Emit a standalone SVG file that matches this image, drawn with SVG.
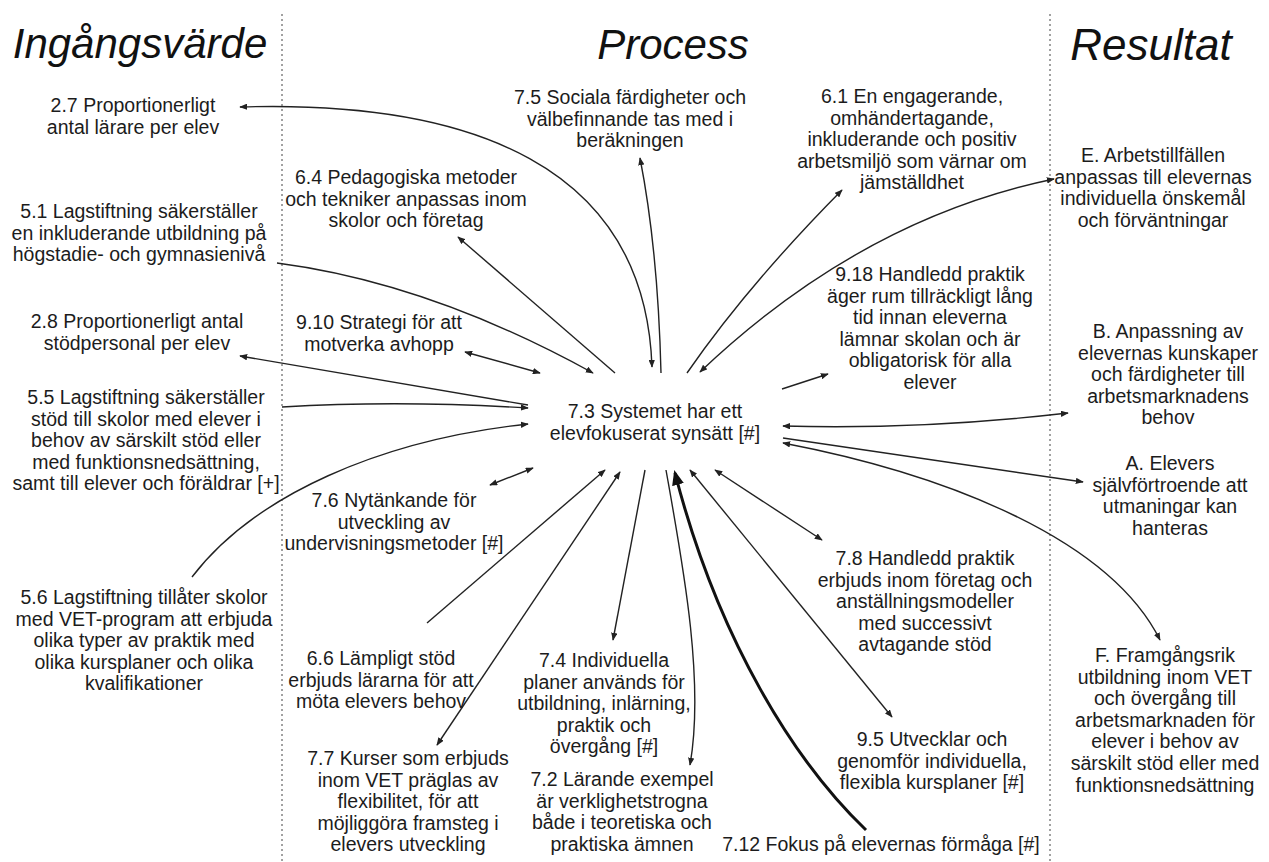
<svg xmlns="http://www.w3.org/2000/svg" width="1269" height="862" viewBox="0 0 1269 862">
  <defs>
    <style>
      .t { font-family: "Liberation Sans", Arial, sans-serif; font-size: 19.5px; fill: #1c1c1c; text-anchor: middle; }
      .h { font-family: "Liberation Sans", Arial, sans-serif; font-size: 42px; font-style: italic; fill: #111; text-anchor: middle; }
      .sep { stroke: #8a8a8a; stroke-width: 1.6; stroke-dasharray: 2 3; fill: none; }
      .c { fill: none; stroke: #222; stroke-width: 1.4; }
      .ce { marker-end: url(#ah); }
      .cs { marker-start: url(#ah); }
      .thick { fill: none; stroke: #111; stroke-width: 3; marker-end: url(#ahBig); }
    </style>
    <marker id="ah" viewBox="0 0 10 8" refX="9" refY="4" markerWidth="8" markerHeight="6.4" markerUnits="userSpaceOnUse" orient="auto-start-reverse">
      <path d="M0,0 L10,4 L0,8 z" fill="#222"/>
    </marker>
    <marker id="ahBig" viewBox="0 0 10 8" refX="8" refY="4" markerWidth="15" markerHeight="12" markerUnits="userSpaceOnUse" orient="auto">
      <path d="M0,0 L10,4 L0,8 z" fill="#111"/>
    </marker>
  </defs>

  <rect width="1269" height="862" fill="#fff"/>

  <!-- column separators -->
  <line class="sep" x1="282" y1="14" x2="282" y2="862"/>
  <line class="sep" x1="1050" y1="14" x2="1050" y2="862"/>

  <!-- column headings -->
  <text class="h" x="140" y="58">Ingångsvärde</text>
  <text class="h" x="673" y="59">Process</text>
  <text class="h" x="1151" y="60" style="font-size:44px">Resultat</text>

  <!-- connectors -->
  <g id="connectors">
    <path class="c ce cs" d="M652 367 C645 165 470 100 240 107"/>
    <path class="c ce" d="M661 373 Q658 250 640 158"/>
    <path class="c ce" d="M615 373 L458 237"/>
    <path class="c ce" d="M277 263 Q430 283 593 373"/>
    <path class="c ce" d="M687 373 Q748 285 842 190"/>
    <path class="c ce cs" d="M700 372 C760 315 880 215 1054 179"/>
    <path class="c ce" d="M782 389 L828 374"/>
    <path class="c ce cs" d="M465 352 L540 373"/>
    <path class="c ce" d="M528 405 L240 356"/>
    <path class="c ce" d="M282 407 Q400 400 528 408"/>
    <path class="c ce" d="M192 577 C255 495 380 440 528 424"/>
    <path class="c ce cs" d="M490 485 L533 468"/>
    <path class="c ce" d="M427 623 L605 470"/>
    <path class="c ce cs" d="M437 745 L620 472"/>
    <path class="c ce" d="M645 470 L613 640"/>
    <path class="c ce" d="M666 470 C682 560 705 680 690 765"/>
    <path class="thick" d="M866 830 C795 762 718 640 675 473"/>
    <path class="c ce cs" d="M690 470 L892 717"/>
    <path class="c ce cs" d="M715 470 L822 540"/>
    <path class="c ce cs" d="M783 426 Q920 430 1068 413"/>
    <path class="c ce" d="M783 438 L1083 482"/>
    <path class="c ce cs" d="M783 443 C950 475 1110 540 1160 640"/>
  </g>

  <!-- input column -->
  <g id="n-2-7"><text class="t" x="133" y="112"><tspan x="133">2.7 Proportionerligt</tspan><tspan x="133" dy="21.6">antal lärare per elev</tspan></text></g>
  <g id="n-5-1"><text class="t" x="139" y="218"><tspan x="139">5.1 Lagstiftning säkerställer</tspan><tspan x="139" dy="21.6">en inkluderande utbildning på</tspan><tspan x="139" dy="21.6">högstadie- och gymnasienivå</tspan></text></g>
  <g id="n-2-8"><text class="t" x="137" y="328"><tspan x="137">2.8 Proportionerligt antal</tspan><tspan x="137" dy="21.6">stödpersonal per elev</tspan></text></g>
  <g id="n-5-5"><text class="t" x="146" y="404"><tspan x="146">5.5 Lagstiftning säkerställer</tspan><tspan x="146" dy="21.6">stöd till skolor med elever i</tspan><tspan x="146" dy="21.6">behov av särskilt stöd eller</tspan><tspan x="146" dy="21.6">med funktionsnedsättning,</tspan><tspan x="146" dy="21.6">samt till elever och föräldrar [+]</tspan></text></g>
  <g id="n-5-6"><text class="t" x="144" y="604"><tspan x="144">5.6 Lagstiftning tillåter skolor</tspan><tspan x="144" dy="21.6">med VET-program att erbjuda</tspan><tspan x="144" dy="21.6">olika typer av praktik med</tspan><tspan x="144" dy="21.6">olika kursplaner och olika</tspan><tspan x="144" dy="21.6">kvalifikationer</tspan></text></g>

  <!-- process column -->
  <g id="n-7-5"><text class="t" x="630" y="104"><tspan x="630">7.5 Sociala färdigheter och</tspan><tspan x="630" dy="21.6">välbefinnande tas med i</tspan><tspan x="630" dy="21.6">beräkningen</tspan></text></g>
  <g id="n-6-4"><text class="t" x="406" y="184"><tspan x="406">6.4 Pedagogiska metoder</tspan><tspan x="406" dy="21.6">och tekniker anpassas inom</tspan><tspan x="406" dy="21.6">skolor och företag</tspan></text></g>
  <g id="n-9-10"><text class="t" x="379" y="329"><tspan x="379">9.10 Strategi för att</tspan><tspan x="379" dy="21.6">motverka avhopp</tspan></text></g>
  <g id="n-7-3"><text class="t" x="655" y="418"><tspan x="655">7.3 Systemet har ett</tspan><tspan x="655" dy="21.6">elevfokuserat synsätt [#]</tspan></text></g>
  <g id="n-7-6"><text class="t" x="394" y="507"><tspan x="394">7.6 Nytänkande för</tspan><tspan x="394" dy="21.6">utveckling av</tspan><tspan x="394" dy="21.6">undervisningsmetoder [#]</tspan></text></g>
  <g id="n-6-6"><text class="t" x="381" y="665"><tspan x="381">6.6 Lämpligt stöd</tspan><tspan x="381" dy="21.6">erbjuds lärarna för att</tspan><tspan x="381" dy="21.6">möta elevers behov</tspan></text></g>
  <g id="n-7-7"><text class="t" x="408" y="765"><tspan x="408">7.7 Kurser som erbjuds</tspan><tspan x="408" dy="21.6">inom VET präglas av</tspan><tspan x="408" dy="21.6">flexibilitet, för att</tspan><tspan x="408" dy="21.6">möjliggöra framsteg i</tspan><tspan x="408" dy="21.6">elevers utveckling</tspan></text></g>
  <g id="n-7-4"><text class="t" x="604" y="667"><tspan x="604">7.4 Individuella</tspan><tspan x="604" dy="21.6">planer används för</tspan><tspan x="604" dy="21.6">utbildning, inlärning,</tspan><tspan x="604" dy="21.6">praktik och</tspan><tspan x="604" dy="21.6">övergång [#]</tspan></text></g>
  <g id="n-7-2"><text class="t" x="622" y="786"><tspan x="622">7.2 Lärande exempel</tspan><tspan x="622" dy="21.6">är verklighetstrogna</tspan><tspan x="622" dy="21.6">både i teoretiska och</tspan><tspan x="622" dy="21.6">praktiska ämnen</tspan></text></g>
  <g id="n-7-12"><text class="t" x="881" y="851">7.12 Fokus på elevernas förmåga [#]</text></g>
  <g id="n-6-1"><text class="t" x="912" y="103"><tspan x="912">6.1 En engagerande,</tspan><tspan x="912" dy="21.6">omhändertagande,</tspan><tspan x="912" dy="21.6">inkluderande och positiv</tspan><tspan x="912" dy="21.6">arbetsmiljö som värnar om</tspan><tspan x="912" dy="21.6">jämställdhet</tspan></text></g>
  <g id="n-9-18"><text class="t" x="930" y="281"><tspan x="930">9.18 Handledd praktik</tspan><tspan x="930" dy="21.6">äger rum tillräckligt lång</tspan><tspan x="930" dy="21.6">tid innan eleverna</tspan><tspan x="930" dy="21.6">lämnar skolan och är</tspan><tspan x="930" dy="21.6">obligatorisk för alla</tspan><tspan x="930" dy="21.6">elever</tspan></text></g>
  <g id="n-7-8"><text class="t" x="925" y="565"><tspan x="925">7.8 Handledd praktik</tspan><tspan x="925" dy="21.6">erbjuds inom företag och</tspan><tspan x="925" dy="21.6">anställningsmodeller</tspan><tspan x="925" dy="21.6">med successivt</tspan><tspan x="925" dy="21.6">avtagande stöd</tspan></text></g>
  <g id="n-9-5"><text class="t" x="932" y="746"><tspan x="932">9.5 Utvecklar och</tspan><tspan x="932" dy="21.6">genomför individuella,</tspan><tspan x="932" dy="21.6">flexibla kursplaner [#]</tspan></text></g>

  <!-- result column -->
  <g id="n-E"><text class="t" x="1153" y="162"><tspan x="1153">E. Arbetstillfällen</tspan><tspan x="1153" dy="21.6">anpassas till elevernas</tspan><tspan x="1153" dy="21.6">individuella önskemål</tspan><tspan x="1153" dy="21.6">och förväntningar</tspan></text></g>
  <g id="n-B"><text class="t" x="1168" y="338"><tspan x="1168">B. Anpassning av</tspan><tspan x="1168" dy="21.6">elevernas kunskaper</tspan><tspan x="1168" dy="21.6">och färdigheter till</tspan><tspan x="1168" dy="21.6">arbetsmarknadens</tspan><tspan x="1168" dy="21.6">behov</tspan></text></g>
  <g id="n-A"><text class="t" x="1170" y="470"><tspan x="1170">A. Elevers</tspan><tspan x="1170" dy="21.6">självförtroende att</tspan><tspan x="1170" dy="21.6">utmaningar kan</tspan><tspan x="1170" dy="21.6">hanteras</tspan></text></g>
  <g id="n-F"><text class="t" x="1165" y="662"><tspan x="1165">F. Framgångsrik</tspan><tspan x="1165" dy="21.6">utbildning inom VET</tspan><tspan x="1165" dy="21.6">och övergång till</tspan><tspan x="1165" dy="21.6">arbetsmarknaden för</tspan><tspan x="1165" dy="21.6">elever i behov av</tspan><tspan x="1165" dy="21.6">särskilt stöd eller med</tspan><tspan x="1165" dy="21.6">funktionsnedsättning</tspan></text></g>
</svg>
